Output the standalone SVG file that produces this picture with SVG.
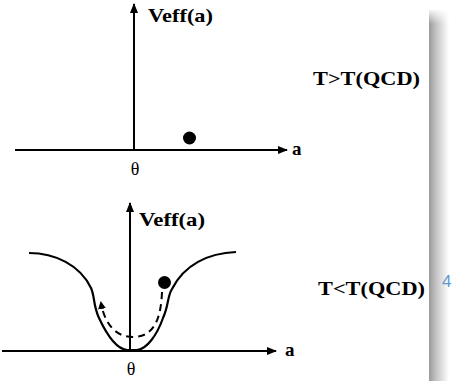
<svg xmlns="http://www.w3.org/2000/svg" width="457" height="381" viewBox="0 0 457 381">
<style>
.ax{stroke:#000;stroke-width:2;fill:none}
.crv{stroke:#000;stroke-width:2.2;fill:none}
.dash{stroke:#000;stroke-width:2;fill:none;stroke-dasharray:7 5}
.t{font-family:'Liberation Serif','DejaVu Serif','Times New Roman',serif;font-weight:bold;font-size:19px;fill:#000}
.th{font-family:'Liberation Serif','DejaVu Serif','Times New Roman',serif;font-size:18px;fill:#000}
.pg{font-family:'Liberation Sans',Arial,sans-serif;font-size:17px;fill:#5b9bd5}
</style>
<defs>
<marker id="ah" markerWidth="10" markerHeight="8" refX="9" refY="4" orient="auto" markerUnits="userSpaceOnUse">
<path d="M0,0 L10,4 L0,8 Z" fill="#000"/>
</marker>
<marker id="ah2" markerWidth="8" markerHeight="8" refX="6" refY="4" orient="auto" markerUnits="userSpaceOnUse">
<path d="M0,0 L8,4 L0,8 Z" fill="#000"/>
</marker>
<linearGradient id="sh" x1="0" y1="0" x2="1" y2="0">
<stop offset="0" stop-color="#9a9a9a"/>
<stop offset="0.4" stop-color="#c8c8c8"/>
<stop offset="1" stop-color="#ffffff"/>
</linearGradient>
<linearGradient id="fade" x1="0" y1="0" x2="0" y2="1">
<stop offset="0" stop-color="#fff" stop-opacity="1"/>
<stop offset="1" stop-color="#fff" stop-opacity="0"/>
</linearGradient>
</defs>
<rect id="shadow" x="429" y="10" width="20" height="371" fill="url(#sh)"/>
<rect x="429" y="8" width="20" height="16" fill="url(#fade)"/>
<g id="connectors">
<line class="ax" x1="15" y1="150" x2="287" y2="150" marker-end="url(#ah)"/>
<line class="ax" x1="134" y1="150" x2="134" y2="4" marker-end="url(#ah)"/>
<line class="ax" x1="2" y1="351" x2="276" y2="351" marker-end="url(#ah)"/>
<line class="ax" x1="130" y1="351" x2="130" y2="203" marker-end="url(#ah)"/>
<path class="crv" d="M29,253 C55,253 80,265 91,288 C95,297 93,305 99,318 C106,333 116,349 127,350 L137,350 C147,349 157,335 163,318 C169,305 167,297 172,289 C184,265 208,253 236,252"/>
<path class="dash" d="M162,292 C161,315 156,337 133,337 C113,337 104,320 101,303" marker-end="url(#ah2)"/>
</g>
<g id="top-plot">
<text class="t" x="148" y="22" textLength="65" lengthAdjust="spacingAndGlyphs" font-family="Liberation Serif, serif">Veff(a)</text>
<circle cx="189.5" cy="138" r="6.5" fill="#000"/>
<text class="th" x="135" y="175" text-anchor="middle" font-family="Liberation Serif, serif">θ</text>
<text class="t" x="292" y="155" font-family="Liberation Serif, serif">a</text>
<text class="t" x="313" y="85" textLength="107" lengthAdjust="spacingAndGlyphs" font-family="Liberation Serif, serif">T&gt;T(QCD)</text>
</g>
<g id="bottom-plot">
<text class="t" x="139" y="226" textLength="66" lengthAdjust="spacingAndGlyphs" font-family="Liberation Serif, serif">Veff(a)</text>
<circle cx="164.5" cy="282.5" r="6.5" fill="#000"/>
<text class="th" x="131" y="375" text-anchor="middle" font-family="Liberation Serif, serif">θ</text>
<text class="t" x="285" y="356" font-family="Liberation Serif, serif">a</text>
<text class="t" x="318" y="295" textLength="107" lengthAdjust="spacingAndGlyphs" font-family="Liberation Serif, serif">T&lt;T(QCD)</text>
</g>
<text id="page-num" class="pg" x="442" y="287">4</text>
</svg>
